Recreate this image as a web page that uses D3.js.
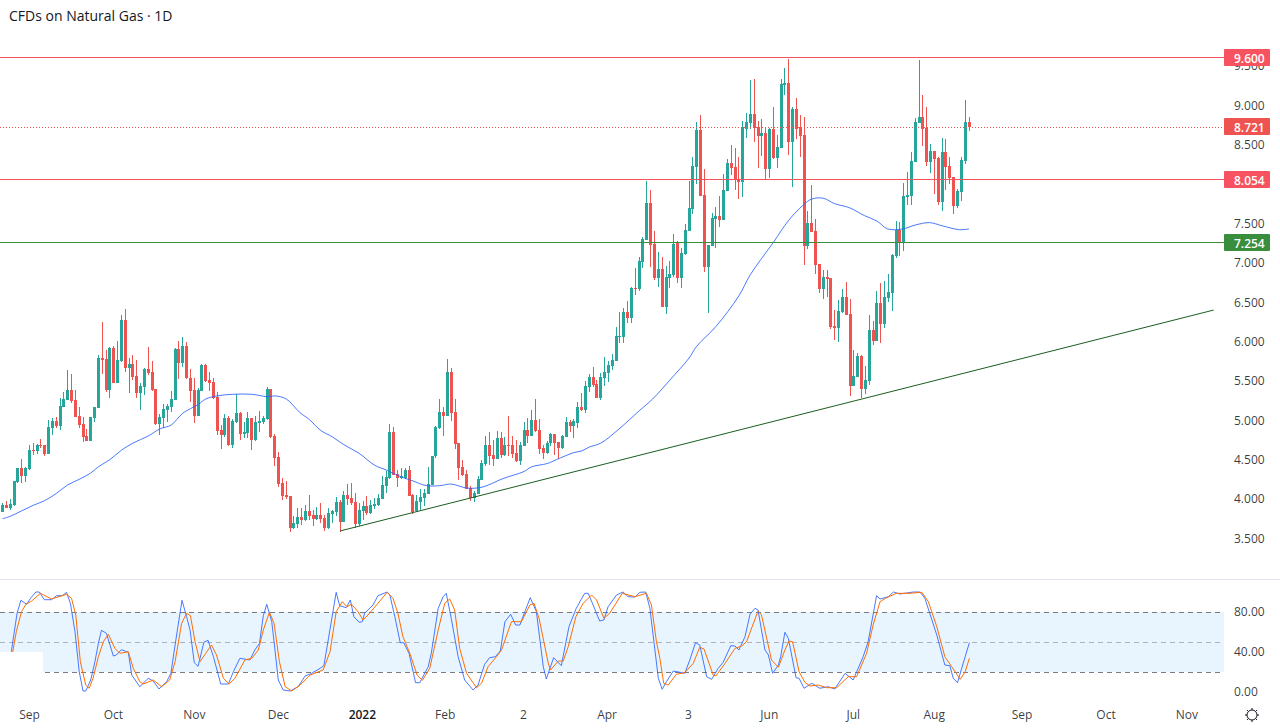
<!DOCTYPE html>
<html>
<head>
<meta charset="utf-8">
<style>
html,body{margin:0;padding:0;background:#fff;overflow:hidden}
svg{display:block}
text{font-family:"Open Sans","Liberation Sans",sans-serif}
</style>
<script src="https://cdn.jsdelivr.net/npm/d3@7"></script>
</head>
<body>
<svg id="chart" width="1280" height="728"></svg>
<script>
const title = "CFDs on Natural Gas · 1D";
const highs = [3.95,3.98,4.00,4.23,4.39,4.51,4.41,4.69,4.71,4.70,
4.76,4.69,5.00,5.03,5.04,5.28,5.36,5.64,5.59,5.39,
5.17,5.04,4.89,5.04,5.17,5.83,6.25,5.89,5.93,5.94,
6.01,6.34,6.41,5.79,5.83,5.77,5.47,5.66,5.93,5.75,
5.40,5.08,5.21,5.21,5.37,5.92,6.01,6.06,6.00,5.65,
5.54,5.41,5.72,5.72,5.61,5.54,5.36,4.94,5.08,5.06,
5.02,5.33,5.11,4.98,5.11,5.03,5.06,5.12,5.06,5.42,
5.40,4.83,4.60,4.27,4.23,4.04,3.79,3.89,3.89,3.92,
4.05,3.86,3.90,3.95,3.80,3.89,3.86,4.03,3.99,4.10,
4.19,4.20,4.08,3.95,3.98,4.04,3.99,4.01,4.06,4.29,
4.36,4.95,4.92,4.37,4.40,4.40,4.42,4.06,4.05,4.13,
4.13,4.41,4.55,4.93,5.27,5.17,5.78,5.66,5.27,4.71,
4.50,4.37,4.17,4.10,4.29,4.50,4.80,4.85,4.75,4.86,
4.85,4.79,5.06,4.80,4.75,4.73,4.98,5.03,5.13,5.27,
5.02,4.69,4.74,4.84,4.83,4.73,4.81,5.04,5.00,5.02,
5.23,5.35,5.50,5.59,5.68,5.51,5.60,5.80,5.75,5.84,
6.18,6.37,6.43,6.51,6.69,6.93,7.07,7.33,8.04,7.92,
7.40,7.14,7.07,6.96,7.02,7.37,7.28,7.19,7.49,8.04,
8.34,8.79,8.88,8.19,7.23,7.63,7.71,7.85,8.13,8.32,
8.50,8.46,8.34,8.80,8.90,9.32,9.33,8.80,8.83,8.72,
8.71,8.98,8.62,9.33,9.47,9.59,8.98,9.09,8.88,8.85,
7.66,7.99,7.56,6.98,6.91,6.91,6.81,6.40,6.53,6.67,
6.76,6.54,5.89,5.85,5.83,5.69,6.34,6.26,6.64,6.74,
6.77,6.86,7.11,7.53,7.52,8.01,8.15,8.41,8.84,9.58,
9.13,8.98,8.51,8.42,8.34,8.58,8.57,8.34,8.09,7.94,
8.34,9.07,8.85];
const lows = [3.83,3.89,3.86,3.91,4.20,4.20,4.22,4.37,4.56,4.57,
4.65,4.55,4.57,4.81,4.90,4.88,5.17,5.26,5.22,5.04,
4.90,4.73,4.74,4.74,4.98,5.16,5.59,5.36,5.28,5.47,
5.47,5.74,5.61,5.35,5.51,5.28,5.13,5.32,5.58,5.37,
4.94,4.81,4.90,4.98,5.11,5.26,5.52,5.68,5.52,5.23,
4.97,5.06,5.37,5.49,5.37,5.27,4.81,4.64,4.79,4.67,
4.65,4.97,4.75,4.78,4.78,4.62,4.74,4.85,4.95,5.00,
4.78,4.42,4.15,3.99,4.00,3.58,3.62,3.63,3.67,3.72,
3.73,3.66,3.73,3.70,3.59,3.62,3.70,3.79,3.58,3.71,
3.92,3.92,3.63,3.66,3.73,3.80,3.81,3.87,3.91,4.00,
4.08,4.26,4.31,4.15,4.26,4.26,4.04,3.81,3.84,3.86,
3.91,4.06,4.18,4.52,4.89,4.80,5.06,4.99,4.64,4.24,
4.29,4.13,3.98,3.96,4.06,4.24,4.42,4.43,4.42,4.51,
4.52,4.55,4.55,4.52,4.47,4.43,4.67,4.71,4.80,4.85,
4.57,4.51,4.57,4.67,4.56,4.51,4.64,4.79,4.85,4.78,
4.90,5.12,5.09,5.36,5.42,5.28,5.26,5.44,5.49,5.64,
5.75,5.98,5.98,6.24,6.24,6.59,6.64,6.93,7.29,6.95,
6.78,6.69,6.44,6.35,6.68,6.82,6.74,6.68,7.10,7.40,
7.62,8.00,7.85,6.88,6.36,7.21,7.19,7.45,7.54,7.91,
8.11,7.92,7.81,7.84,8.58,8.70,8.53,8.20,8.36,8.05,
8.08,8.32,8.20,8.46,9.13,8.37,7.96,8.57,8.34,6.97,
7.18,7.39,6.86,6.62,6.54,6.57,6.16,6.02,5.99,6.36,
6.34,5.31,5.44,5.55,5.28,5.33,5.45,5.96,6.01,5.98,
6.17,6.50,6.39,7.06,7.09,7.15,7.73,7.73,8.28,8.78,
8.48,8.23,8.14,7.87,7.73,7.66,7.92,8.00,7.62,7.70,
7.78,8.25,8.67];
const opens = [3.83,3.93,3.89,3.93,4.22,4.39,4.29,4.38,4.62,4.61,
4.69,4.69,4.57,4.90,4.99,4.93,5.17,5.26,5.39,5.26,
5.06,4.95,4.80,4.74,5.03,5.16,5.79,5.78,5.39,5.92,
5.47,5.75,6.27,5.66,5.72,5.56,5.35,5.42,5.65,5.61,
5.40,4.95,5.03,5.13,5.17,5.26,5.91,5.73,5.94,5.54,
5.39,5.06,5.37,5.70,5.51,5.49,5.30,4.88,4.81,5.03,
4.69,4.98,5.09,4.83,4.84,5.03,4.75,4.97,4.98,5.02,
5.40,4.80,4.53,4.20,4.05,4.04,3.63,3.68,3.77,3.73,
3.85,3.80,3.75,3.80,3.76,3.63,3.81,3.84,3.96,3.71,
4.05,4.01,3.96,3.68,3.85,3.91,3.82,3.91,3.92,4.00,
4.17,4.27,4.85,4.32,4.27,4.27,4.37,4.05,3.85,3.96,
4.01,4.06,4.18,4.55,4.90,5.11,5.06,5.61,5.11,4.71,
4.41,4.32,4.14,4.01,4.06,4.24,4.45,4.69,4.56,4.51,
4.78,4.56,4.69,4.69,4.59,4.48,4.67,4.88,4.80,5.00,
4.88,4.65,4.59,4.71,4.83,4.73,4.65,4.79,4.98,4.93,
4.97,5.17,5.13,5.42,5.55,5.46,5.28,5.54,5.60,5.69,
5.75,6.06,6.06,6.37,6.30,6.68,6.67,7.01,7.29,7.76,
7.24,6.81,6.92,6.44,6.81,6.85,7.25,6.81,7.11,7.40,
7.68,8.22,8.69,7.86,6.95,7.21,7.56,7.59,7.54,7.91,
8.27,8.22,8.06,8.03,8.70,8.78,8.89,8.72,8.61,8.65,
8.19,8.70,8.33,8.46,9.26,9.28,8.53,8.95,8.72,8.62,
7.21,7.51,7.40,6.98,6.67,6.82,6.81,6.20,6.17,6.37,
6.57,6.35,5.44,5.55,5.82,5.40,5.50,6.15,6.01,6.49,
6.22,6.55,6.62,7.09,7.42,7.26,7.84,7.85,8.28,8.78,
8.85,8.71,8.28,8.42,8.33,7.77,8.41,8.23,8.09,7.72,
7.90,8.29,8.79];
const closes = [3.93,3.89,3.94,4.23,4.39,4.29,4.39,4.62,4.61,4.69,
4.67,4.57,4.92,4.99,4.93,5.18,5.27,5.39,5.25,5.04,
4.94,4.79,4.74,5.04,5.17,5.79,5.77,5.39,5.92,5.47,
5.77,6.27,5.66,5.72,5.55,5.35,5.44,5.65,5.60,5.39,
4.95,5.04,5.14,5.18,5.27,5.91,5.73,5.94,5.54,5.37,
5.06,5.39,5.70,5.50,5.47,5.28,4.86,4.81,5.03,4.69,
4.99,5.09,4.83,4.85,5.03,4.75,4.98,4.99,5.03,5.40,
4.79,4.52,4.19,4.04,4.03,3.63,3.70,3.77,3.73,3.85,
3.79,3.75,3.80,3.75,3.63,3.82,3.85,3.96,3.71,4.05,
4.00,3.95,3.68,3.86,3.91,3.82,3.92,3.94,4.01,4.18,
4.28,4.85,4.31,4.27,4.29,4.37,4.04,3.84,3.98,4.03,
4.08,4.19,4.55,4.92,5.11,5.06,5.61,5.09,4.70,4.40,
4.31,4.13,4.01,4.08,4.26,4.46,4.69,4.55,4.51,4.78,
4.56,4.69,4.67,4.57,4.48,4.69,4.88,4.80,5.00,4.86,
4.64,4.59,4.71,4.83,4.71,4.65,4.80,4.98,4.93,4.99,
5.17,5.13,5.44,5.55,5.45,5.28,5.55,5.61,5.70,5.77,
6.07,6.07,6.37,6.30,6.68,6.67,7.02,7.30,7.76,7.23,
6.81,6.92,6.44,6.82,6.86,7.24,6.81,7.12,7.42,7.70,
8.23,8.69,7.85,6.95,7.23,7.57,7.59,7.54,7.92,8.27,
8.20,8.05,8.03,8.72,8.79,8.89,8.71,8.61,8.65,8.19,
8.70,8.33,8.47,9.27,9.28,8.53,8.95,8.70,8.61,7.21,
7.51,7.39,6.97,6.67,6.82,6.79,6.18,6.17,6.39,6.57,
6.34,5.44,5.56,5.82,5.40,5.51,6.15,6.01,6.49,6.22,
6.57,6.63,7.10,7.42,7.26,7.85,7.86,8.29,8.79,8.85,
8.70,8.28,8.42,8.32,7.77,8.41,8.22,8.08,7.72,7.91,
8.31,8.79,8.721];

const maBars = [0,2,5,8,11,14,17,20,23,25,28,31,34,38,41,44,47,51,53,56,60,65,69,71,74,77.5,80,83,86,89,93,97,100,104,107,110.5,114,117,121,125,130.5,136,138,142,144.4,149,151,153,156,161,166,169.5,174,179,181,186,192,195,201,205,208.7,211,214,217,220.8,224.7,228,230.8,234.7,238,241.7,245,249.5,252];
const maValues = [3.75,3.78,3.85,3.92,3.98,4.07,4.18,4.25,4.33,4.41,4.50,4.62,4.71,4.80,4.89,4.94,5.09,5.20,5.27,5.31,5.33,5.33,5.30,5.31,5.27,5.10,5.01,4.87,4.79,4.69,4.58,4.43,4.37,4.28,4.23,4.17,4.17,4.19,4.14,4.15,4.26,4.35,4.41,4.45,4.50,4.59,4.61,4.66,4.71,4.90,5.12,5.27,5.51,5.79,5.94,6.19,6.58,6.85,7.26,7.54,7.73,7.81,7.82,7.75,7.70,7.60,7.53,7.43,7.43,7.48,7.51,7.47,7.42,7.43];

const trendBars = [88,315.8];
const trendPrices = [3.594,6.40];

const kBars = [2.3,3.8,4.8,6.3,7.3,8.7,9.6,10.9,12.8,14.1,15.6,16.7,17.7,18.9,20,21,21.7,23,24.1,25,25.8,27.1,28.9,29.7,31,32.8,33.7,35.8,38,39.3,40.8,42.8,43.9,45.4,46.8,48,48.9,50,51,52.5,53.6,55,56.9,58.9,60.2,61.9,64.5,65.8,67,68,68.9,70.2,71,71.9,73.2,75,77.1,78.9,80.6,82.8,83.8,85,87,87.9,89.6,90.7,91.6,93,93.8,94.4,96.6,97.9,100.3,101,102.3,103.7,104.6,106,107.7,108.8,111,111.8,113.6,114.9,115.7,117,118.8,120.5,122.7,124,125.7,127,128.5,129.8,131,132.5,133.8,134.9,136.2,137.6,139.2,141,141.8,143.7,145.7,147.7,149.6,151.8,152.7,154,155.7,156.8,157.9,160.1,161.8,163.1,164.9,166.2,167.7,168.8,171,172,173.1,174.9,177.9,179.2,180.7,181.8,183.6,184.9,186.6,187.9,189.9,191,192,193.6,194.9,196.2,197,198.8,199.7,200.8,202.3,202.9,204,204.9,206.9,207.7,209,211,213.1,215.3,217,219.7,221.8,224.4,225.7,227.9,228.8,231,232.3,234,237.5,239.2,240.5,243.6,245.7,247,247.9,249,250.1,251,252.1];
const kValues = [40.3,78.7,91.7,87.7,93.7,100,100,92.3,92.3,96.3,96.3,99.7,88.7,60.3,20.3,1,1,12,30.3,48.7,61.7,58.7,36,37,42.3,39.7,17,5.3,13.7,11,3,10.3,18.7,57,91.7,75.3,62,29.3,25.7,49.7,51.7,35.3,8,8,20.3,33.7,32,42,48.7,76.3,87.7,70.3,43.7,12,2,1,5.3,16,18.7,23.7,26.3,53.7,99.7,86.3,84.3,92,75.3,69.7,70.3,78.7,87,96.3,100,97,75.3,49.3,49.3,38.7,9.3,9.3,25.3,38.7,83.7,95.3,98.7,73.7,35.3,12,2,7,27.7,34.3,35.3,41,70.3,77.7,67,67,80.3,94.3,80.3,25.3,13,34.3,26.3,65.3,83.7,98.7,98.7,87,71,72,85.3,97,100,95.3,95,99.7,100,83.7,13.7,2.7,10.3,21,18.7,32,49.3,47,15.3,12.7,23.7,29.7,46.3,46,42,55.3,77.7,83.7,82,42,37,18.7,27,35.3,59.7,53.7,14.3,13.7,3.7,8.7,3.7,5.3,3,18.7,12,35.3,50.3,96.3,93,95.3,100,98,100,100,93.7,57,27,26.3,13.7,9.3,23.7,35.3,49.3];

const dBars = [2.6,3.6,4.95,6.1,7.6,9.9,12.8,16.7,18,19.1,20.3,21.7,22.6,23.6,25,26.3,27.6,29.3,30.6,32.8,34.1,35.8,36.7,39.3,41.5,43.6,45,46.7,48,49,50.2,51.5,53,54.5,55.8,57.6,59.1,60.6,63.2,65,66.7,68,69.6,70.8,72.2,73.7,75.4,77.6,80.2,83.6,85.4,87,88.6,89.8,91,92.7,94,95.3,97.9,100.3,101.8,103.1,104.4,106.2,108.1,109.5,111.4,113.6,115.3,116.6,117.9,119.2,121,123.6,124.9,126.6,128.8,130.1,132.7,135.3,137.5,138.6,139.9,142.3,142.9,144.9,146.2,147.5,149.5,151.4,153.6,154.9,156.8,158.3,161.6,164.9,167.9,169.2,170.5,171.4,172.4,173.6,175.7,177.9,180.1,181.8,182.9,185.3,186,188.4,191,192.7,194,197,197.9,200.5,202.3,204,205.1,206,207.7,209.2,210.5,212.7,214.9,217.5,220.5,222.7,225.3,227,228.8,230.5,233.1,236.6,239.7,241.4,243.6,245.7,247.5,249.7,251,252.1];
const dValues = [38.7,60.3,80.3,87.7,91,98.7,93,97.7,93.7,77,30.3,7,3.7,13.7,35.3,50.3,57.7,43.7,38.7,40.3,23.7,10.3,8,12,5.3,12,30.3,68.7,78.7,76.3,50.3,30.3,38.7,47,37,13.7,8,13.7,32,33.7,42,62,79.7,68.7,30.3,5.3,1,7,17,22,40.3,80.3,90.3,85.3,87.7,80.3,72,77,88.7,99.7,93.7,78.7,55.3,38.7,17,11.7,23.7,62,88.7,93,82,43.7,18.7,4.3,8.7,25.3,35.3,42,70.3,70.3,87,88.7,73.7,28.7,22,31,31,45.3,75.3,88.7,97,92,73.7,78.7,98.7,95.3,98.7,87,50.3,33.7,8.7,7,17.7,19.3,28.7,44.7,43,17,16,28.7,43.7,46,50.3,81,77,32,24.7,42,51,50.3,20.3,9.7,6,7,4.3,4.3,15.3,15.3,38.7,67,90.3,94.3,98.7,98.7,99.7,90.3,65.3,35.3,25.3,12.7,20.3,33.7];

const priceTicks = [3.5,4,4.5,5,5.5,6,6.5,7,7.5,8,8.5,9,9.5];
const stochTicks = [80,40,0];
const stochBands = [80,50,20];
const timeBars = [6.9,28.8,49.9,71.8,93.7,115.3,135.7,157.5,178.7,199.8,221.7,242.8,265.7,287.6,308.7];
const timeLabels = ["Sep","Oct","Nov","Dec","2022","Feb","2","Apr","3","Jun","Jul","Aug","Sep","Oct","Nov"];
const levelValues = [9.6,8.054,7.254];
const levelColors = ["#f7525f","#f7525f","#388e3c"];
const lastPrice = 8.721;

const UP="#26a69a", DOWN="#ef5350";
const svg = d3.select("#chart");
const x = d3.scaleLinear().domain([0,252]).range([2.5,969]);
const y = d3.scaleLinear().domain([9,3.5]).range([105.3,538.4]);
const ys = d3.scaleLinear().domain([0,100]).range([692,592]);
const W = 1224;

// indicator panel background and divider
svg.append("line").attr("x1",0).attr("x2",1280).attr("y1",579.5).attr("y2",579.5).attr("stroke","#e0e3eb");
svg.append("rect").attr("x",0).attr("width",W).attr("y",ys(80)).attr("height",ys(20)-ys(80)).attr("fill","#2196f3").attr("fill-opacity",0.1);
svg.selectAll(".sband").data(stochBands).join("line")
  .attr("x1",0).attr("x2",W).attr("y1",d=>ys(d)+.5).attr("y2",d=>ys(d)+.5)
  .attr("stroke","#787b86").attr("stroke-opacity",d=>d===50?0.55:1)
  .attr("stroke-dasharray","5 4");

// candles
const bars = d3.range(closes.length);
const col = i => closes[i]>=opens[i] ? UP : DOWN;
const candles = svg.append("g").attr("shape-rendering","crispEdges");
candles.selectAll(".wick").data(bars).join("rect")
  .attr("x",i=>Math.floor(x(i))).attr("width",1)
  .attr("y",i=>Math.round(y(highs[i])))
  .attr("height",i=>Math.max(1,Math.round(y(lows[i]))-Math.round(y(highs[i]))))
  .attr("fill",col);
candles.selectAll(".body").data(bars).join("rect")
  .attr("x",i=>Math.floor(x(i))-1).attr("width",3)
  .attr("y",i=>Math.round(y(Math.max(opens[i],closes[i]))))
  .attr("height",i=>Math.max(1,Math.round(y(Math.min(opens[i],closes[i])))-Math.round(y(Math.max(opens[i],closes[i])))))
  .attr("fill",col);

// moving average
const pts = (xs,vs)=>xs.map((b,i)=>[b,vs[i]]);
const priceLine = d3.line().x(d=>x(d[0])).y(d=>y(d[1])).curve(d3.curveCatmullRom.alpha(0.5));
svg.append("path").attr("d",priceLine(pts(maBars,maValues))).attr("fill","none").attr("stroke","#2962ff").attr("stroke-opacity",0.85).attr("stroke-width",1);

// trend line
svg.append("path").attr("d",d3.line().x(d=>x(d[0])).y(d=>y(d[1]))(pts(trendBars,trendPrices))).attr("fill","none").attr("stroke","#1b5e20").attr("stroke-width",1);

// horizontal levels
svg.selectAll(".lvl").data(levelValues).join("line")
  .attr("x1",0).attr("x2",W)
  .attr("y1",d=>Math.round(y(d))+.5-1).attr("y2",d=>Math.round(y(d))+.5-1)
  .attr("stroke",(d,i)=>levelColors[i]).attr("stroke-width",1);
svg.append("line").attr("x1",0).attr("x2",W).attr("y1",Math.round(y(lastPrice))+.5).attr("y2",Math.round(y(lastPrice))+.5)
  .attr("stroke",DOWN).attr("stroke-dasharray","1 2");

// stochastic lines
const stochLine = d3.line().x(d=>x(d[0])).y(d=>ys(d[1]));
svg.append("path").attr("d",stochLine(pts(kBars,kValues))).attr("fill","none").attr("stroke","#2962ff").attr("stroke-opacity",0.85).attr("stroke-width",1);
svg.append("path").attr("d",stochLine(pts(dBars,dValues))).attr("fill","none").attr("stroke","#ff6d00").attr("stroke-width",1);

// white legend patch at the panel's left edge
svg.append("rect").attr("x",0).attr("y",ys(40)).attr("width",43).attr("height",ys(19)-ys(40)).attr("fill","#fff");

// axes
const txt="#131722";
const priceAxis = d3.axisRight(y).tickValues(priceTicks).tickSize(0).tickPadding(0).tickFormat(d3.format(".3f"));
const gp = svg.append("g").attr("transform","translate(1234,0)").call(priceAxis);
const stochAxis = d3.axisRight(ys).tickValues(stochTicks).tickSize(0).tickPadding(0).tickFormat(d3.format(".2f"));
const gs = svg.append("g").attr("transform","translate(1234,0)").call(stochAxis);
const timeAxis = d3.axisBottom(x).tickValues(timeBars).tickSize(0).tickPadding(0).tickFormat((d,i)=>timeLabels[i]);
const gt = svg.append("g").attr("transform","translate(0,710)").call(timeAxis);
[gp,gs,gt].forEach(g=>{g.select(".domain").remove();
  g.selectAll("text").attr("fill",txt).attr("fill-opacity",.85).style("font-size","12px").style("font-family",'"Open Sans",sans-serif');});
gt.selectAll("text").attr("y",0).attr("dy",".72em").filter(d=>d===93.7).style("font-weight","600").attr("fill-opacity",1);

// price labels
const labelData = [[levelValues[0],levelColors[0]],[lastPrice,DOWN],[levelValues[1],levelColors[1]],[levelValues[2],levelColors[2]]];
const lab = svg.selectAll(".lab").data(labelData).join("g").attr("transform",d=>`translate(1224,${Math.round(y(d[0]))})`);
lab.append("rect").attr("x",0).attr("y",-9).attr("width",46).attr("height",17).attr("rx",1).attr("fill",d=>d[1]);
lab.append("text").attr("x",10).attr("y",4.5).attr("fill","#fff").style("font-size","12px").style("font-weight","600").text(d=>d3.format(".3f")(d[0]));

// title
svg.append("text").attr("x",9).attr("y",21).attr("fill",txt).style("font-size","14px").text(title);

// settings gear
const gear = svg.append("g").attr("transform","translate(1252,715)").attr("stroke","#131722").attr("fill","none").attr("stroke-width",1);
gear.append("circle").attr("r",5);
gear.selectAll("line").data(d3.range(8)).join("line")
  .attr("x1",d=>5*Math.cos(d*Math.PI/4)).attr("y1",d=>5*Math.sin(d*Math.PI/4))
  .attr("x2",d=>7*Math.cos(d*Math.PI/4)).attr("y2",d=>7*Math.sin(d*Math.PI/4));
</script>
</body>
</html>
